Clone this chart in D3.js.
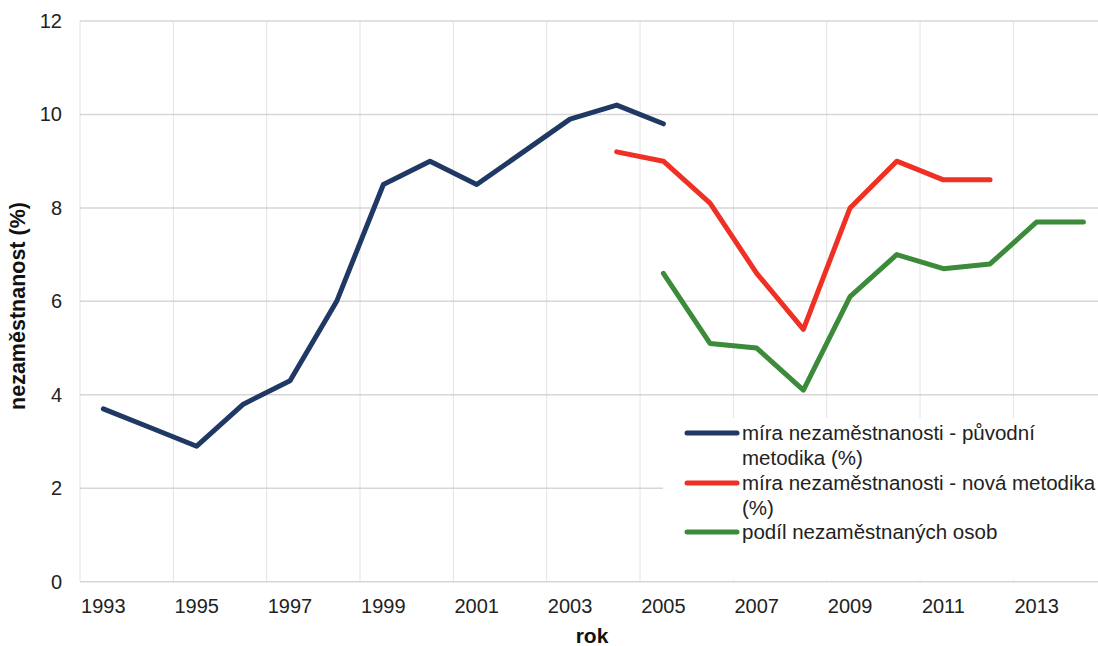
<!DOCTYPE html>
<html>
<head>
<meta charset="utf-8">
<script src="https://cdn.jsdelivr.net/npm/d3@7"></script>
<style>
    body { margin: 0; background: #fff; }
    svg { font-family: "Liberation Sans", Arial, sans-serif; }
</style>
</head>
<body>
<svg id="chart" width="1098" height="646"></svg>
<script>
"use strict";

const years = d3.range(1993, 2015);
const tickYears = [1993, 1995, 1997, 1999, 2001, 2003, 2005, 2007, 2009, 2011, 2013];
const yTicks = [0, 2, 4, 6, 8, 10, 12];

// míra nezaměstnanosti - původní metodika, 1993-2005
const origYears = d3.range(1993, 2006);
const origValues = [3.7, 3.3, 2.9, 3.8, 4.3, 6.0, 8.5, 9.0, 8.5, 9.2, 9.9, 10.2, 9.8];

// míra nezaměstnanosti - nová metodika, 2004-2012
const newYears = d3.range(2004, 2013);
const newValues = [9.2, 9.0, 8.1, 6.6, 5.4, 8.0, 9.0, 8.6, 8.6];

// podíl nezaměstnaných osob, 2005-2014
const shareYears = d3.range(2005, 2015);
const shareValues = [6.6, 5.1, 5.0, 4.1, 6.1, 7.0, 6.7, 6.8, 7.7, 7.7];

const seriesNames = [
    ["míra nezaměstnanosti - původní", "metodika (%)"],
    ["míra nezaměstnanosti - nová metodika", "(%)"],
    ["podíl nezaměstnaných osob"]
];
const colors = ["#203864", "#EE3124", "#3B8B3B"];

const svg = d3.select("#chart");
const plotLeft = 80, plotTop = 21, plotW = 46.67 * years.length, plotBottom = 581.7;

const x = d3.scaleBand().domain(years).range([plotLeft, plotLeft + plotW]);
const y = d3.scaleLinear().domain([0, 12]).range([plotBottom, plotTop]);
const cx = yr => x(yr) + x.bandwidth() / 2;

// vertical gridlines at every 2nd category boundary
const grid = svg.append("g");
grid.selectAll("line.v")
    .data(tickYears)
    .join("line")
    .attr("x1", d => x(d))
    .attr("x2", d => x(d))
    .attr("y1", plotTop).attr("y2", plotBottom)
    .attr("stroke", "#e3e3e3").attr("stroke-width", 1);

grid.selectAll("line.h")
    .data(yTicks)
    .join("line")
    .attr("x1", plotLeft).attr("x2", 1098)
    .attr("y1", d => y(d)).attr("y2", d => y(d))
    .attr("stroke", "#d6d6d6").attr("stroke-width", 1.5);

// y axis labels
svg.append("g").selectAll("text")
    .data(yTicks)
    .join("text")
    .attr("x", 62).attr("y", d => y(d))
    .attr("dy", "0.35em")
    .attr("text-anchor", "end")
    .attr("font-size", 20)
    .attr("fill", "#222")
    .text(d => d);

// x axis labels
svg.append("g").selectAll("text")
    .data(tickYears)
    .join("text")
    .attr("x", d => cx(d)).attr("y", 613)
    .attr("text-anchor", "middle")
    .attr("font-size", 20)
    .attr("fill", "#222")
    .text(d => d);

// axis titles
svg.append("text")
    .attr("transform", "translate(25,306) rotate(-90)")
    .attr("text-anchor", "middle")
    .attr("font-size", 21.5).attr("font-weight", "bold")
    .attr("fill", "#111")
    .text("nezaměstnanost (%)");

svg.append("text")
    .attr("x", 592).attr("y", 643)
    .attr("text-anchor", "middle")
    .attr("font-size", 21).attr("font-weight", "bold")
    .attr("fill", "#111")
    .text("rok");

// lines
const line = d3.line().x(d => cx(d[0])).y(d => y(d[1]));
const series = [
    d3.zip(origYears, origValues),
    d3.zip(newYears, newValues),
    d3.zip(shareYears, shareValues)
];

// legend box (drawn under the lines, over the grid)
svg.append("rect")
    .attr("x", 663).attr("y", 418)
    .attr("width", 435).attr("height", 162)
    .attr("fill", "#fff").attr("fill-opacity", 0.92);

svg.append("g").selectAll("path")
    .data(series)
    .join("path")
    .attr("d", line)
    .attr("fill", "none")
    .attr("stroke", (d, i) => colors[i])
    .attr("stroke-width", 5)
    .attr("stroke-linecap", "round")
    .attr("stroke-linejoin", "round");

// legend
const legendY = [433, 483, 532];
const lg = svg.append("g").selectAll("g")
    .data(seriesNames)
    .join("g")
    .attr("transform", (d, i) => `translate(0,${legendY[i]})`);

lg.append("line")
    .attr("x1", 687).attr("x2", 737)
    .attr("stroke", (d, i) => colors[i])
    .attr("stroke-width", 5)
    .attr("stroke-linecap", "round");

lg.append("text")
    .attr("x", 742)
    .attr("font-size", 20.5)
    .attr("fill", "#222")
    .selectAll("tspan")
    .data(d => d)
    .join("tspan")
    .attr("x", 742)
    .attr("y", (d, i) => 7 + i * 25)
    .text(d => d);
</script>
</body>
</html>
